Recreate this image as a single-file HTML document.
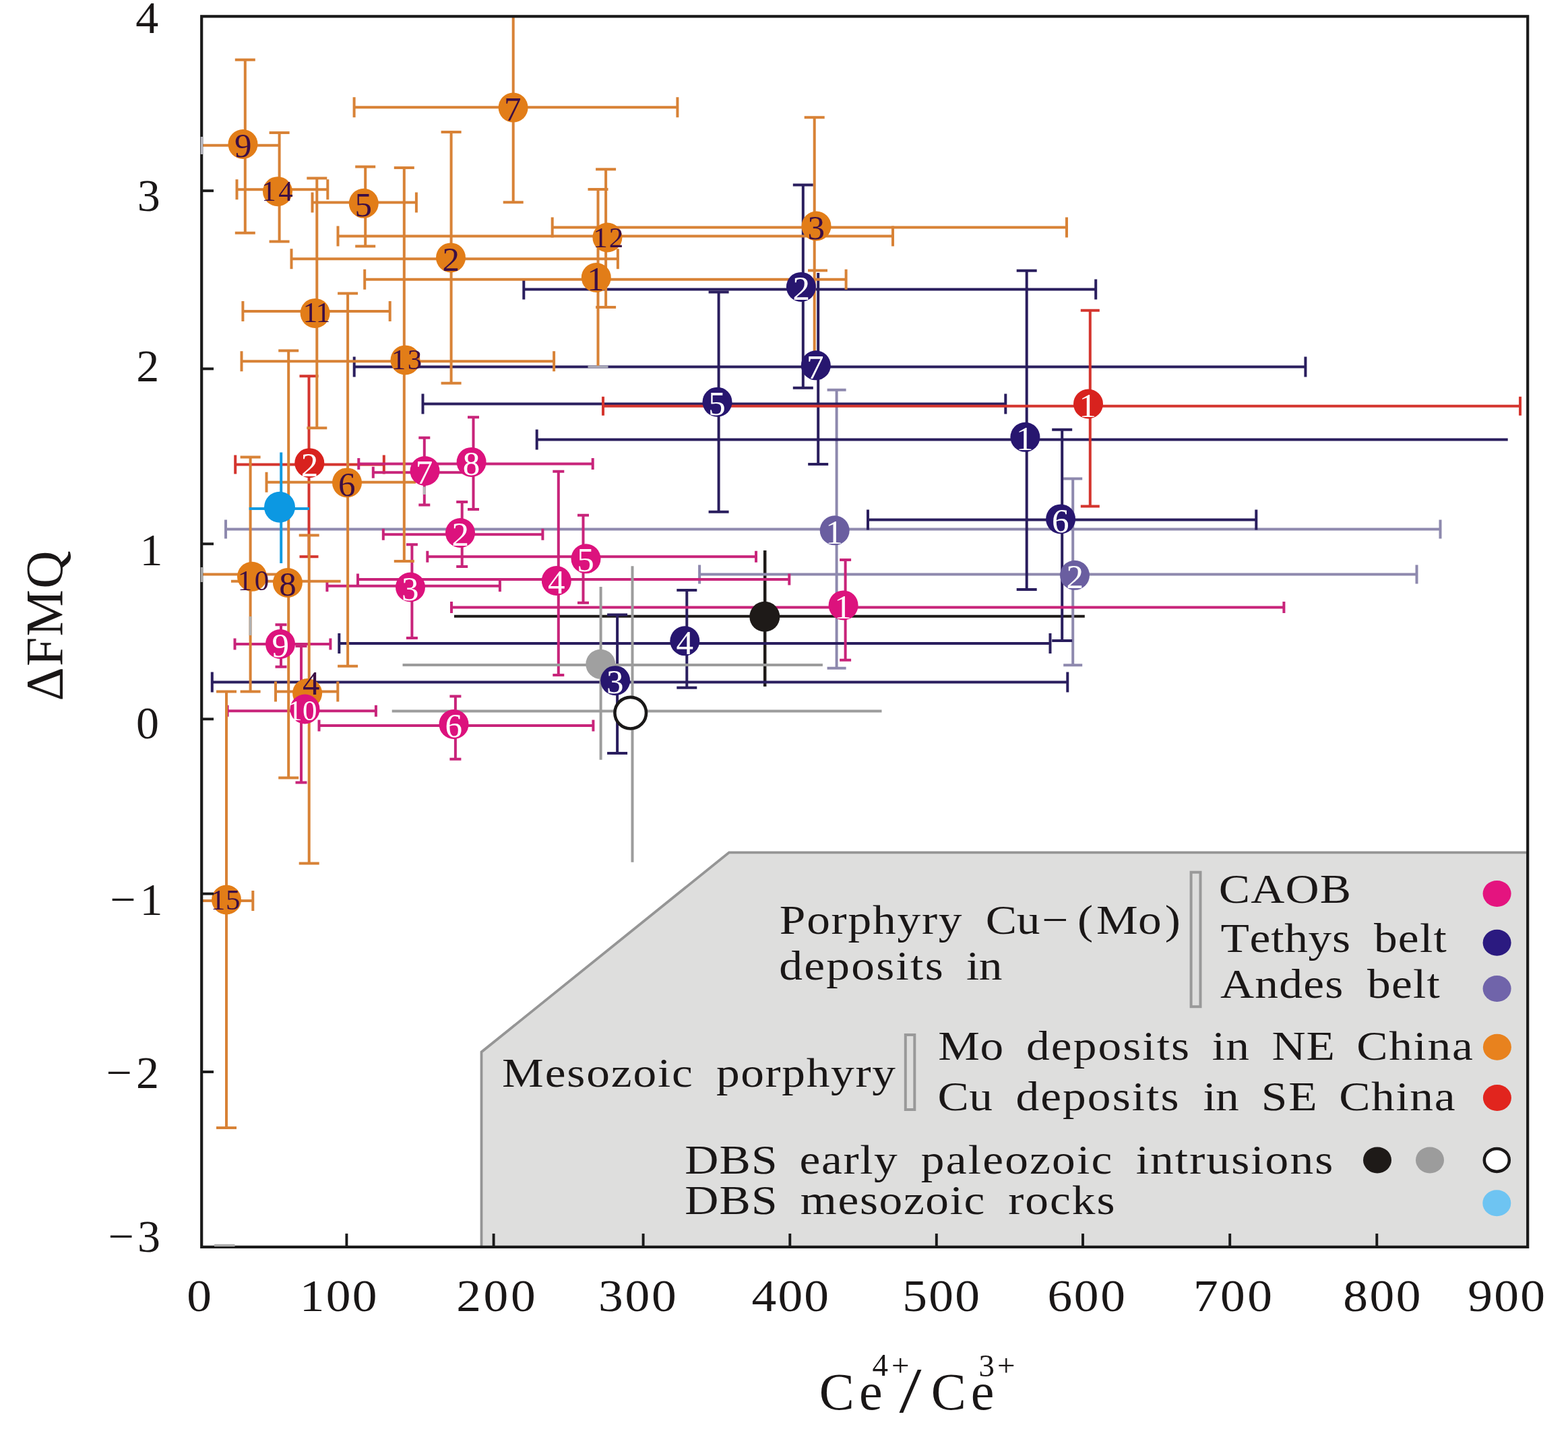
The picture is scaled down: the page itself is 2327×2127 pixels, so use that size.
<!DOCTYPE html>
<html><head><meta charset="utf-8"><title>Ce4+/Ce3+ vs FMQ</title>
<style>html,body{margin:0;padding:0;background:#fff;overflow:hidden}svg{display:block;filter:blur(0.6px)}text{font-family:"Liberation Serif","Times New Roman",serif}</style></head><body>
<svg xmlns="http://www.w3.org/2000/svg" width="2327" height="2127" viewBox="0 0 2327 2127">
<rect width="2327" height="2127" fill="#fff"/>
<defs><clipPath id="plot"><rect x="299.2" y="24.3" width="1968" height="1826.6"/></clipPath></defs>
<polygon points="714.5,1851 714.5,1561.5 1082,1265.3 2267,1265.3 2267,1851" fill="#DEDEDD" stroke="#959595" stroke-width="3.8" stroke-linejoin="miter"/>
<g clip-path="url(#plot)" stroke-linecap="butt">
<g class="eb">
<line x1="674" y1="914.8" x2="1609.8" y2="914.8" stroke="#1E1A18" stroke-width="4"/>
<line x1="1135.2" y1="817" x2="1135.2" y2="1018.9" stroke="#1E1A18" stroke-width="4.5"/>
<line x1="335" y1="785.4" x2="2137.5" y2="785.4" stroke="#8E89AE" stroke-width="4"/>
<line x1="335" y1="771.4" x2="335" y2="799.4" stroke="#8E89AE" stroke-width="4"/>
<line x1="2137.5" y1="771.4" x2="2137.5" y2="799.4" stroke="#8E89AE" stroke-width="4"/>
<line x1="1241.6" y1="578.7" x2="1241.6" y2="991.7" stroke="#8E89AE" stroke-width="4"/>
<line x1="1227.6" y1="578.7" x2="1255.6" y2="578.7" stroke="#8E89AE" stroke-width="4"/>
<line x1="1227.6" y1="991.7" x2="1255.6" y2="991.7" stroke="#8E89AE" stroke-width="4"/>
<line x1="1038.1" y1="852.5" x2="2102.5" y2="852.5" stroke="#8E89AE" stroke-width="4"/>
<line x1="1038.1" y1="838.5" x2="1038.1" y2="866.5" stroke="#8E89AE" stroke-width="4"/>
<line x1="2102.5" y1="838.5" x2="2102.5" y2="866.5" stroke="#8E89AE" stroke-width="4"/>
<line x1="1592.2" y1="710.4" x2="1592.2" y2="987.2" stroke="#8E89AE" stroke-width="4"/>
<line x1="1578.2" y1="710.4" x2="1606.2" y2="710.4" stroke="#8E89AE" stroke-width="4"/>
<line x1="1578.2" y1="987.2" x2="1606.2" y2="987.2" stroke="#8E89AE" stroke-width="4"/>
<line x1="777.3" y1="429.4" x2="1626.2" y2="429.4" stroke="#2A1E5E" stroke-width="4"/>
<line x1="777.3" y1="414.4" x2="777.3" y2="444.4" stroke="#2A1E5E" stroke-width="4"/>
<line x1="1626.2" y1="414.4" x2="1626.2" y2="444.4" stroke="#2A1E5E" stroke-width="4"/>
<line x1="1191.8" y1="274.6" x2="1191.8" y2="575.8" stroke="#2A1E5E" stroke-width="4"/>
<line x1="1176.8" y1="274.6" x2="1206.8" y2="274.6" stroke="#2A1E5E" stroke-width="4"/>
<line x1="1176.8" y1="575.8" x2="1206.8" y2="575.8" stroke="#2A1E5E" stroke-width="4"/>
<line x1="525.7" y1="544.6" x2="1937.4" y2="544.6" stroke="#2A1E5E" stroke-width="4"/>
<line x1="525.7" y1="529.6" x2="525.7" y2="559.6" stroke="#2A1E5E" stroke-width="4"/>
<line x1="1937.4" y1="529.6" x2="1937.4" y2="559.6" stroke="#2A1E5E" stroke-width="4"/>
<line x1="1214.2" y1="405" x2="1214.2" y2="689" stroke="#2A1E5E" stroke-width="4"/>
<line x1="1199.2" y1="689" x2="1229.2" y2="689" stroke="#2A1E5E" stroke-width="4"/>
<line x1="627.5" y1="599.6" x2="1492.3" y2="599.6" stroke="#2A1E5E" stroke-width="4"/>
<line x1="627.5" y1="584.6" x2="627.5" y2="614.6" stroke="#2A1E5E" stroke-width="4"/>
<line x1="1492.3" y1="584.6" x2="1492.3" y2="614.6" stroke="#2A1E5E" stroke-width="4"/>
<line x1="1066.6" y1="433.5" x2="1066.6" y2="759.8" stroke="#2A1E5E" stroke-width="4"/>
<line x1="1051.6" y1="433.5" x2="1081.6" y2="433.5" stroke="#2A1E5E" stroke-width="4"/>
<line x1="1051.6" y1="759.8" x2="1081.6" y2="759.8" stroke="#2A1E5E" stroke-width="4"/>
<line x1="796.7" y1="652.4" x2="2237.7" y2="652.4" stroke="#2A1E5E" stroke-width="4"/>
<line x1="796.7" y1="637.4" x2="796.7" y2="667.4" stroke="#2A1E5E" stroke-width="4"/>
<line x1="1523.7" y1="401.8" x2="1523.7" y2="875" stroke="#2A1E5E" stroke-width="4"/>
<line x1="1508.7" y1="401.8" x2="1538.7" y2="401.8" stroke="#2A1E5E" stroke-width="4"/>
<line x1="1508.7" y1="875" x2="1538.7" y2="875" stroke="#2A1E5E" stroke-width="4"/>
<line x1="1288" y1="771.6" x2="1864.3" y2="771.6" stroke="#2A1E5E" stroke-width="4"/>
<line x1="1288" y1="756.6" x2="1288" y2="786.6" stroke="#2A1E5E" stroke-width="4"/>
<line x1="1864.3" y1="756.6" x2="1864.3" y2="786.6" stroke="#2A1E5E" stroke-width="4"/>
<line x1="1576.2" y1="637.8" x2="1576.2" y2="950.9" stroke="#2A1E5E" stroke-width="4"/>
<line x1="1561.2" y1="637.8" x2="1591.2" y2="637.8" stroke="#2A1E5E" stroke-width="4"/>
<line x1="1561.2" y1="950.9" x2="1591.2" y2="950.9" stroke="#2A1E5E" stroke-width="4"/>
<line x1="503.3" y1="954.9" x2="1558.5" y2="954.9" stroke="#2A1E5E" stroke-width="4"/>
<line x1="503.3" y1="939.9" x2="503.3" y2="969.9" stroke="#2A1E5E" stroke-width="4"/>
<line x1="1558.5" y1="939.9" x2="1558.5" y2="969.9" stroke="#2A1E5E" stroke-width="4"/>
<line x1="1019.3" y1="875.9" x2="1019.3" y2="1020.8" stroke="#2A1E5E" stroke-width="4"/>
<line x1="1004.3" y1="875.9" x2="1034.3" y2="875.9" stroke="#2A1E5E" stroke-width="4"/>
<line x1="1004.3" y1="1020.8" x2="1034.3" y2="1020.8" stroke="#2A1E5E" stroke-width="4"/>
<line x1="314.8" y1="1012.4" x2="1584.3" y2="1012.4" stroke="#2A1E5E" stroke-width="4"/>
<line x1="314.8" y1="997.4" x2="314.8" y2="1027.4" stroke="#2A1E5E" stroke-width="4"/>
<line x1="1584.3" y1="997.4" x2="1584.3" y2="1027.4" stroke="#2A1E5E" stroke-width="4"/>
<line x1="916.1" y1="912.6" x2="916.1" y2="1117.9" stroke="#2A1E5E" stroke-width="4"/>
<line x1="901.1" y1="912.6" x2="931.1" y2="912.6" stroke="#2A1E5E" stroke-width="4"/>
<line x1="901.1" y1="1117.9" x2="931.1" y2="1117.9" stroke="#2A1E5E" stroke-width="4"/>
<line x1="349.2" y1="689.5" x2="569.8" y2="689.5" stroke="#D4352E" stroke-width="4"/>
<line x1="349.2" y1="675.5" x2="349.2" y2="703.5" stroke="#D4352E" stroke-width="4"/>
<line x1="569.8" y1="675.5" x2="569.8" y2="703.5" stroke="#D4352E" stroke-width="4"/>
<line x1="458.5" y1="558.2" x2="458.5" y2="826.2" stroke="#D4352E" stroke-width="4"/>
<line x1="444.5" y1="558.2" x2="472.5" y2="558.2" stroke="#D4352E" stroke-width="4"/>
<line x1="444.5" y1="826.2" x2="472.5" y2="826.2" stroke="#D4352E" stroke-width="4"/>
<line x1="895" y1="602.8" x2="2256" y2="602.8" stroke="#D4352E" stroke-width="4"/>
<line x1="895" y1="588.8" x2="895" y2="616.8" stroke="#D4352E" stroke-width="4"/>
<line x1="2256" y1="588.8" x2="2256" y2="616.8" stroke="#D4352E" stroke-width="4"/>
<line x1="1617.8" y1="460.7" x2="1617.8" y2="751.6" stroke="#D4352E" stroke-width="4"/>
<line x1="1603.8" y1="460.7" x2="1631.8" y2="460.7" stroke="#D4352E" stroke-width="4"/>
<line x1="1603.8" y1="751.6" x2="1631.8" y2="751.6" stroke="#D4352E" stroke-width="4"/>
<line x1="553.8" y1="701.2" x2="690" y2="701.2" stroke="#C8247A" stroke-width="4"/>
<line x1="553.8" y1="692.7" x2="553.8" y2="709.7" stroke="#C8247A" stroke-width="4"/>
<line x1="629.8" y1="649.7" x2="629.8" y2="749.5" stroke="#C8247A" stroke-width="4"/>
<line x1="621.3" y1="649.7" x2="638.3" y2="649.7" stroke="#C8247A" stroke-width="4"/>
<line x1="621.3" y1="749.5" x2="638.3" y2="749.5" stroke="#C8247A" stroke-width="4"/>
<line x1="532.3" y1="688.5" x2="879.7" y2="688.5" stroke="#C8247A" stroke-width="4"/>
<line x1="532.3" y1="680" x2="532.3" y2="697" stroke="#C8247A" stroke-width="4"/>
<line x1="879.7" y1="680" x2="879.7" y2="697" stroke="#C8247A" stroke-width="4"/>
<line x1="702.5" y1="619.3" x2="702.5" y2="756" stroke="#C8247A" stroke-width="4"/>
<line x1="694" y1="619.3" x2="711" y2="619.3" stroke="#C8247A" stroke-width="4"/>
<line x1="694" y1="756" x2="711" y2="756" stroke="#C8247A" stroke-width="4"/>
<line x1="568.8" y1="793.3" x2="805.4" y2="793.3" stroke="#C8247A" stroke-width="4"/>
<line x1="568.8" y1="784.8" x2="568.8" y2="801.8" stroke="#C8247A" stroke-width="4"/>
<line x1="805.4" y1="784.8" x2="805.4" y2="801.8" stroke="#C8247A" stroke-width="4"/>
<line x1="685.7" y1="745" x2="685.7" y2="841" stroke="#C8247A" stroke-width="4"/>
<line x1="677.2" y1="745" x2="694.2" y2="745" stroke="#C8247A" stroke-width="4"/>
<line x1="677.2" y1="841" x2="694.2" y2="841" stroke="#C8247A" stroke-width="4"/>
<line x1="634.3" y1="826.3" x2="1122" y2="826.3" stroke="#C8247A" stroke-width="4"/>
<line x1="634.3" y1="817.8" x2="634.3" y2="834.8" stroke="#C8247A" stroke-width="4"/>
<line x1="1122" y1="817.8" x2="1122" y2="834.8" stroke="#C8247A" stroke-width="4"/>
<line x1="865.5" y1="764.8" x2="865.5" y2="894.8" stroke="#C8247A" stroke-width="4"/>
<line x1="857" y1="764.8" x2="874" y2="764.8" stroke="#C8247A" stroke-width="4"/>
<line x1="857" y1="894.8" x2="874" y2="894.8" stroke="#C8247A" stroke-width="4"/>
<line x1="485.4" y1="869.8" x2="741.9" y2="869.8" stroke="#C8247A" stroke-width="4"/>
<line x1="485.4" y1="861.3" x2="485.4" y2="878.3" stroke="#C8247A" stroke-width="4"/>
<line x1="741.9" y1="861.3" x2="741.9" y2="878.3" stroke="#C8247A" stroke-width="4"/>
<line x1="611.4" y1="808.3" x2="611.4" y2="947.1" stroke="#C8247A" stroke-width="4"/>
<line x1="602.9" y1="808.3" x2="619.9" y2="808.3" stroke="#C8247A" stroke-width="4"/>
<line x1="602.9" y1="947.1" x2="619.9" y2="947.1" stroke="#C8247A" stroke-width="4"/>
<line x1="531" y1="860" x2="1171.3" y2="860" stroke="#C8247A" stroke-width="4"/>
<line x1="531" y1="851.5" x2="531" y2="868.5" stroke="#C8247A" stroke-width="4"/>
<line x1="1171.3" y1="851.5" x2="1171.3" y2="868.5" stroke="#C8247A" stroke-width="4"/>
<line x1="828.8" y1="699.8" x2="828.8" y2="1001.9" stroke="#C8247A" stroke-width="4"/>
<line x1="820.3" y1="699.8" x2="837.3" y2="699.8" stroke="#C8247A" stroke-width="4"/>
<line x1="820.3" y1="1001.9" x2="837.3" y2="1001.9" stroke="#C8247A" stroke-width="4"/>
<line x1="670" y1="901.4" x2="1905.4" y2="901.4" stroke="#C8247A" stroke-width="4"/>
<line x1="670" y1="892.9" x2="670" y2="909.9" stroke="#C8247A" stroke-width="4"/>
<line x1="1905.4" y1="892.9" x2="1905.4" y2="909.9" stroke="#C8247A" stroke-width="4"/>
<line x1="1254.6" y1="831" x2="1254.6" y2="979.8" stroke="#C8247A" stroke-width="4"/>
<line x1="1246.1" y1="831" x2="1263.1" y2="831" stroke="#C8247A" stroke-width="4"/>
<line x1="1246.1" y1="979.8" x2="1263.1" y2="979.8" stroke="#C8247A" stroke-width="4"/>
<line x1="348.5" y1="956" x2="490.4" y2="956" stroke="#C8247A" stroke-width="4"/>
<line x1="348.5" y1="947.5" x2="348.5" y2="964.5" stroke="#C8247A" stroke-width="4"/>
<line x1="490.4" y1="947.5" x2="490.4" y2="964.5" stroke="#C8247A" stroke-width="4"/>
<line x1="417" y1="927.3" x2="417" y2="989.8" stroke="#C8247A" stroke-width="4"/>
<line x1="408.5" y1="927.3" x2="425.5" y2="927.3" stroke="#C8247A" stroke-width="4"/>
<line x1="408.5" y1="989.8" x2="425.5" y2="989.8" stroke="#C8247A" stroke-width="4"/>
<line x1="337.6" y1="1055.3" x2="557.9" y2="1055.3" stroke="#C8247A" stroke-width="4"/>
<line x1="337.6" y1="1046.8" x2="337.6" y2="1063.8" stroke="#C8247A" stroke-width="4"/>
<line x1="557.9" y1="1046.8" x2="557.9" y2="1063.8" stroke="#C8247A" stroke-width="4"/>
<line x1="447" y1="959" x2="447" y2="1161.5" stroke="#C8247A" stroke-width="4"/>
<line x1="438.5" y1="959" x2="455.5" y2="959" stroke="#C8247A" stroke-width="4"/>
<line x1="438.5" y1="1161.5" x2="455.5" y2="1161.5" stroke="#C8247A" stroke-width="4"/>
<line x1="473.5" y1="1077.1" x2="880.4" y2="1077.1" stroke="#C8247A" stroke-width="4"/>
<line x1="473.5" y1="1068.6" x2="473.5" y2="1085.6" stroke="#C8247A" stroke-width="4"/>
<line x1="880.4" y1="1068.6" x2="880.4" y2="1085.6" stroke="#C8247A" stroke-width="4"/>
<line x1="675.9" y1="1033.5" x2="675.9" y2="1126.8" stroke="#C8247A" stroke-width="4"/>
<line x1="667.4" y1="1033.5" x2="684.4" y2="1033.5" stroke="#C8247A" stroke-width="4"/>
<line x1="667.4" y1="1126.8" x2="684.4" y2="1126.8" stroke="#C8247A" stroke-width="4"/>
<line x1="290" y1="215.8" x2="414" y2="215.8" stroke="#D88236" stroke-width="4"/>
<line x1="363.8" y1="88.8" x2="363.8" y2="345.7" stroke="#D88236" stroke-width="4"/>
<line x1="348.8" y1="88.8" x2="378.8" y2="88.8" stroke="#D88236" stroke-width="4"/>
<line x1="348.8" y1="345.7" x2="378.8" y2="345.7" stroke="#D88236" stroke-width="4"/>
<line x1="351.5" y1="281.2" x2="486.3" y2="281.2" stroke="#D88236" stroke-width="4"/>
<line x1="351.5" y1="266.2" x2="351.5" y2="296.2" stroke="#D88236" stroke-width="4"/>
<line x1="486.3" y1="266.2" x2="486.3" y2="296.2" stroke="#D88236" stroke-width="4"/>
<line x1="414.6" y1="196.9" x2="414.6" y2="358.6" stroke="#D88236" stroke-width="4"/>
<line x1="399.6" y1="196.9" x2="429.6" y2="196.9" stroke="#D88236" stroke-width="4"/>
<line x1="399.6" y1="358.6" x2="429.6" y2="358.6" stroke="#D88236" stroke-width="4"/>
<line x1="463.5" y1="300.4" x2="617.9" y2="300.4" stroke="#D88236" stroke-width="4"/>
<line x1="463.5" y1="285.4" x2="463.5" y2="315.4" stroke="#D88236" stroke-width="4"/>
<line x1="617.9" y1="285.4" x2="617.9" y2="315.4" stroke="#D88236" stroke-width="4"/>
<line x1="542.2" y1="247.5" x2="542.2" y2="365.4" stroke="#D88236" stroke-width="4"/>
<line x1="527.2" y1="247.5" x2="557.2" y2="247.5" stroke="#D88236" stroke-width="4"/>
<line x1="527.2" y1="365.4" x2="557.2" y2="365.4" stroke="#D88236" stroke-width="4"/>
<line x1="525.6" y1="159.3" x2="1005.4" y2="159.3" stroke="#D88236" stroke-width="4"/>
<line x1="525.6" y1="144.3" x2="525.6" y2="174.3" stroke="#D88236" stroke-width="4"/>
<line x1="1005.4" y1="144.3" x2="1005.4" y2="174.3" stroke="#D88236" stroke-width="4"/>
<line x1="761.7" y1="10" x2="761.7" y2="300.2" stroke="#D88236" stroke-width="4"/>
<line x1="746.7" y1="300.2" x2="776.7" y2="300.2" stroke="#D88236" stroke-width="4"/>
<line x1="432.5" y1="384.2" x2="916.9" y2="384.2" stroke="#D88236" stroke-width="4"/>
<line x1="432.5" y1="369.2" x2="432.5" y2="399.2" stroke="#D88236" stroke-width="4"/>
<line x1="916.9" y1="369.2" x2="916.9" y2="399.2" stroke="#D88236" stroke-width="4"/>
<line x1="669.6" y1="196" x2="669.6" y2="568.8" stroke="#D88236" stroke-width="4"/>
<line x1="654.6" y1="196" x2="684.6" y2="196" stroke="#D88236" stroke-width="4"/>
<line x1="654.6" y1="568.8" x2="684.6" y2="568.8" stroke="#D88236" stroke-width="4"/>
<line x1="501.5" y1="350.4" x2="1325" y2="350.4" stroke="#D88236" stroke-width="4"/>
<line x1="501.5" y1="335.4" x2="501.5" y2="365.4" stroke="#D88236" stroke-width="4"/>
<line x1="1325" y1="335.4" x2="1325" y2="365.4" stroke="#D88236" stroke-width="4"/>
<line x1="899.1" y1="251.3" x2="899.1" y2="456" stroke="#D88236" stroke-width="4"/>
<line x1="884.1" y1="251.3" x2="914.1" y2="251.3" stroke="#D88236" stroke-width="4"/>
<line x1="884.1" y1="456" x2="914.1" y2="456" stroke="#D88236" stroke-width="4"/>
<line x1="541.2" y1="414.8" x2="1255.6" y2="414.8" stroke="#D88236" stroke-width="4"/>
<line x1="541.2" y1="399.8" x2="541.2" y2="429.8" stroke="#D88236" stroke-width="4"/>
<line x1="1255.6" y1="399.8" x2="1255.6" y2="429.8" stroke="#D88236" stroke-width="4"/>
<line x1="887.5" y1="281.1" x2="887.5" y2="543" stroke="#D88236" stroke-width="4"/>
<line x1="872.5" y1="281.1" x2="902.5" y2="281.1" stroke="#D88236" stroke-width="4"/>
<line x1="819.7" y1="337.5" x2="1583" y2="337.5" stroke="#D88236" stroke-width="4"/>
<line x1="819.7" y1="322.5" x2="819.7" y2="352.5" stroke="#D88236" stroke-width="4"/>
<line x1="1583" y1="322.5" x2="1583" y2="352.5" stroke="#D88236" stroke-width="4"/>
<line x1="1208.7" y1="174.2" x2="1208.7" y2="530" stroke="#D88236" stroke-width="4"/>
<line x1="1193.7" y1="174.2" x2="1223.7" y2="174.2" stroke="#D88236" stroke-width="4"/>
<line x1="360.4" y1="462" x2="578.7" y2="462" stroke="#D88236" stroke-width="4"/>
<line x1="360.4" y1="447" x2="360.4" y2="477" stroke="#D88236" stroke-width="4"/>
<line x1="578.7" y1="447" x2="578.7" y2="477" stroke="#D88236" stroke-width="4"/>
<line x1="470.3" y1="264.6" x2="470.3" y2="635.3" stroke="#D88236" stroke-width="4"/>
<line x1="455.3" y1="264.6" x2="485.3" y2="264.6" stroke="#D88236" stroke-width="4"/>
<line x1="455.3" y1="635.3" x2="485.3" y2="635.3" stroke="#D88236" stroke-width="4"/>
<line x1="358.5" y1="536.2" x2="822.1" y2="536.2" stroke="#D88236" stroke-width="4"/>
<line x1="358.5" y1="521.2" x2="358.5" y2="551.2" stroke="#D88236" stroke-width="4"/>
<line x1="822.1" y1="521.2" x2="822.1" y2="551.2" stroke="#D88236" stroke-width="4"/>
<line x1="599.8" y1="249" x2="599.8" y2="833.1" stroke="#D88236" stroke-width="4"/>
<line x1="584.8" y1="249" x2="614.8" y2="249" stroke="#D88236" stroke-width="4"/>
<line x1="584.8" y1="833.1" x2="614.8" y2="833.1" stroke="#D88236" stroke-width="4"/>
<line x1="395.5" y1="715.8" x2="617" y2="715.8" stroke="#D88236" stroke-width="4"/>
<line x1="395.5" y1="700.8" x2="395.5" y2="730.8" stroke="#D88236" stroke-width="4"/>
<line x1="516.1" y1="435.5" x2="516.1" y2="988.8" stroke="#D88236" stroke-width="4"/>
<line x1="501.1" y1="435.5" x2="531.1" y2="435.5" stroke="#D88236" stroke-width="4"/>
<line x1="501.1" y1="988.8" x2="531.1" y2="988.8" stroke="#D88236" stroke-width="4"/>
<line x1="290" y1="852.6" x2="420" y2="852.6" stroke="#D88236" stroke-width="4"/>
<line x1="371.6" y1="678.4" x2="371.6" y2="1026.5" stroke="#D88236" stroke-width="4"/>
<line x1="356.6" y1="678.4" x2="386.6" y2="678.4" stroke="#D88236" stroke-width="4"/>
<line x1="356.6" y1="1026.5" x2="386.6" y2="1026.5" stroke="#D88236" stroke-width="4"/>
<line x1="342.9" y1="862.8" x2="505.6" y2="862.8" stroke="#D88236" stroke-width="4"/>
<line x1="428.2" y1="520.5" x2="428.2" y2="1154.6" stroke="#D88236" stroke-width="4"/>
<line x1="413.2" y1="520.5" x2="443.2" y2="520.5" stroke="#D88236" stroke-width="4"/>
<line x1="413.2" y1="1154.6" x2="443.2" y2="1154.6" stroke="#D88236" stroke-width="4"/>
<line x1="409" y1="1026.5" x2="501.3" y2="1026.5" stroke="#D88236" stroke-width="4"/>
<line x1="409" y1="1011.5" x2="409" y2="1041.5" stroke="#D88236" stroke-width="4"/>
<line x1="501.3" y1="1011.5" x2="501.3" y2="1041.5" stroke="#D88236" stroke-width="4"/>
<line x1="458.7" y1="794.4" x2="458.7" y2="1281.5" stroke="#D88236" stroke-width="4"/>
<line x1="443.7" y1="794.4" x2="473.7" y2="794.4" stroke="#D88236" stroke-width="4"/>
<line x1="443.7" y1="1281.5" x2="473.7" y2="1281.5" stroke="#D88236" stroke-width="4"/>
<line x1="296" y1="1337.1" x2="375.3" y2="1337.1" stroke="#D88236" stroke-width="4"/>
<line x1="296" y1="1322.1" x2="296" y2="1352.1" stroke="#D88236" stroke-width="4"/>
<line x1="375.3" y1="1322.1" x2="375.3" y2="1352.1" stroke="#D88236" stroke-width="4"/>
<line x1="336" y1="1026.5" x2="336" y2="1674" stroke="#D88236" stroke-width="4"/>
<line x1="321" y1="1026.5" x2="351" y2="1026.5" stroke="#D88236" stroke-width="4"/>
<line x1="321" y1="1674" x2="351" y2="1674" stroke="#D88236" stroke-width="4"/>
<line x1="597.5" y1="987" x2="1220.9" y2="987" stroke="#9C9C9C" stroke-width="4"/>
<line x1="891.6" y1="871" x2="891.6" y2="1127.8" stroke="#9C9C9C" stroke-width="4"/>
<line x1="581.7" y1="1055.5" x2="1308.5" y2="1055.5" stroke="#9C9C9C" stroke-width="4"/>
<line x1="938.5" y1="840.2" x2="938.5" y2="1279.7" stroke="#9C9C9C" stroke-width="4"/>
<line x1="369.7" y1="755" x2="459" y2="755" stroke="#139BE0" stroke-width="4"/>
<line x1="417.2" y1="671.5" x2="417.2" y2="836.1" stroke="#139BE0" stroke-width="4"/>
<line x1="371.6" y1="915" x2="371.6" y2="943" stroke="#B0B0B0" stroke-width="4"/>
<line x1="872.5" y1="544.5" x2="902.5" y2="544.5" stroke="#A8A8B8" stroke-width="3.5"/>
<line x1="629.8" y1="722.5" x2="629.8" y2="734" stroke="#B8B8B8" stroke-width="4"/>
<line x1="1199" y1="401.5" x2="1228" y2="401.5" stroke="#D88236" stroke-width="4"/>
</g>
<circle cx="891.3" cy="985.8" r="22" fill="#A0A0A0"/>
<circle cx="1238.7" cy="787.3" r="22" fill="#6A5EA0"/>
<text x="1225.24" y="806.63" font-size="51" fill="#FFFFFF">1</text>
<circle cx="1595" cy="853.8" r="22" fill="#6A5EA0"/>
<text x="1582.53" y="873.18" font-size="51" fill="#FFFFFF">2</text>
<circle cx="1188.9" cy="425.9" r="22" fill="#27166F"/>
<text x="1176.43" y="445.28" font-size="51" fill="#FFFFFF">2</text>
<circle cx="1210.8" cy="542.3" r="22" fill="#27166F"/>
<text x="1197.11" y="561.5" font-size="51" fill="#FFFFFF">7</text>
<circle cx="1064.5" cy="596.7" r="22" fill="#27166F"/>
<text x="1051.27" y="615.65" font-size="51" fill="#FFFFFF">5</text>
<circle cx="1521.4" cy="648.8" r="22" fill="#27166F"/>
<text x="1507.94" y="668.13" font-size="51" fill="#FFFFFF">1</text>
<circle cx="1574.1" cy="770.4" r="22" fill="#27166F"/>
<text x="1561.02" y="789.53" font-size="51" fill="#FFFFFF">6</text>
<circle cx="1016.3" cy="951.3" r="22" fill="#27166F"/>
<text x="1003.45" y="970.58" font-size="51" fill="#FFFFFF">4</text>
<circle cx="913.1" cy="1010.2" r="22" fill="#27166F"/>
<text x="900.12" y="1029.33" font-size="51" fill="#FFFFFF">3</text>
<circle cx="360.5" cy="214" r="22" fill="#E27D18"/>
<text x="347.98" y="233.13" font-size="51" fill="#3C0E44">9</text>
<circle cx="412" cy="284.2" r="22" fill="#E27D18"/>
<text x="388.22 413.19" y="297.5" font-size="43" fill="#3C0E44">14</text>
<circle cx="539.8" cy="301.8" r="22" fill="#E27D18"/>
<text x="526.57" y="320.75" font-size="51" fill="#3C0E44">5</text>
<circle cx="761.6" cy="159.6" r="22" fill="#E27D18"/>
<text x="747.91" y="178.8" font-size="51" fill="#3C0E44">7</text>
<circle cx="669" cy="382.4" r="22" fill="#E27D18"/>
<text x="656.53" y="401.78" font-size="51" fill="#3C0E44">2</text>
<circle cx="901.4" cy="352.5" r="22" fill="#E27D18"/>
<text x="880.22 903.87" y="367" font-size="43" fill="#3C0E44">12</text>
<circle cx="884.8" cy="412" r="22" fill="#E27D18"/>
<text x="871.34" y="431.33" font-size="51" fill="#3C0E44">1</text>
<circle cx="1211.5" cy="335.5" r="22" fill="#E27D18"/>
<text x="1198.52" y="354.63" font-size="51" fill="#3C0E44">3</text>
<circle cx="467.6" cy="464.9" r="22" fill="#E27D18"/>
<text x="449.72 468.68" y="478" font-size="43" fill="#3C0E44">11</text>
<circle cx="601.5" cy="534.4" r="22" fill="#E27D18"/>
<text x="580.72 604.68" y="548" font-size="43" fill="#3C0E44">13</text>
<circle cx="515" cy="716.4" r="22" fill="#E27D18"/>
<text x="501.92" y="735.53" font-size="51" fill="#3C0E44">6</text>
<circle cx="374" cy="855.8" r="22" fill="#E27D18"/>
<text x="352.82 377.83" y="875.5" font-size="43" fill="#3C0E44">10</text>
<circle cx="426.9" cy="865" r="22" fill="#E27D18"/>
<text x="414.15" y="884.2" font-size="51" fill="#3C0E44">8</text>
<circle cx="456.1" cy="1029" r="22" fill="#E27D18"/>
<text x="448.95" y="1031.38" font-size="51" fill="#3C0E44">4</text>
<circle cx="336" cy="1335.5" r="22" fill="#E27D18"/>
<text x="312.82 334.88" y="1349.5" font-size="43" fill="#3C0E44">15</text>
<circle cx="459.3" cy="687.2" r="22" fill="#D8221E"/>
<text x="446.83" y="706.58" font-size="51" fill="#FFFFFF">2</text>
<circle cx="1615" cy="599.5" r="22" fill="#D8221E"/>
<text x="1601.54" y="618.83" font-size="51" fill="#FFFFFF">1</text>
<circle cx="630.5" cy="699" r="22" fill="#DC127D"/>
<text x="616.81" y="718.2" font-size="51" fill="#FFFFFF">7</text>
<circle cx="699.6" cy="685.9" r="22" fill="#DC127D"/>
<text x="686.85" y="705.1" font-size="51" fill="#FFFFFF">8</text>
<circle cx="683" cy="791" r="22" fill="#DC127D"/>
<text x="670.53" y="810.38" font-size="51" fill="#FFFFFF">2</text>
<circle cx="869.5" cy="829.3" r="22" fill="#DC127D"/>
<text x="856.27" y="848.25" font-size="51" fill="#FFFFFF">5</text>
<circle cx="609" cy="871.5" r="22" fill="#DC127D"/>
<text x="596.02" y="890.63" font-size="51" fill="#FFFFFF">3</text>
<circle cx="825.8" cy="862" r="22" fill="#DC127D"/>
<text x="812.95" y="881.28" font-size="51" fill="#FFFFFF">4</text>
<circle cx="1251.6" cy="898.4" r="22" fill="#DC127D"/>
<text x="1238.14" y="917.73" font-size="51" fill="#FFFFFF">1</text>
<circle cx="416" cy="956" r="22" fill="#DC127D"/>
<text x="403.48" y="975.13" font-size="51" fill="#FFFFFF">9</text>
<circle cx="452.5" cy="1052.5" r="22" fill="#DC127D"/>
<text x="426.92 448.93" y="1068.7" font-size="43" fill="#FFFFFF">10</text>
<circle cx="673.5" cy="1075" r="22" fill="#DC127D"/>
<text x="660.42" y="1094.13" font-size="51" fill="#FFFFFF">6</text>
<circle cx="1134.8" cy="915.3" r="22.5" fill="#1E1A18"/>
<circle cx="935.7" cy="1058.2" r="23.3" fill="#FFFFFF" stroke="#1A1818" stroke-width="4.6"/>
<circle cx="415" cy="752.8" r="23" fill="#0C98E2"/>
</g>
<rect x="299.2" y="24.3" width="1968" height="1826.6" fill="none" stroke="#1A1A1A" stroke-width="4.2"/>
<line x1="299.2" y1="283.2" x2="317" y2="283.2" stroke="#1A1A1A" stroke-width="3.9"/>
<line x1="299.2" y1="547.4" x2="317" y2="547.4" stroke="#1A1A1A" stroke-width="3.9"/>
<line x1="299.2" y1="807.3" x2="317" y2="807.3" stroke="#1A1A1A" stroke-width="3.9"/>
<line x1="299.2" y1="1067.3" x2="317" y2="1067.3" stroke="#1A1A1A" stroke-width="3.9"/>
<line x1="299.2" y1="1326.6" x2="317" y2="1326.6" stroke="#1A1A1A" stroke-width="3.9"/>
<line x1="299.2" y1="1591" x2="317" y2="1591" stroke="#1A1A1A" stroke-width="3.9"/>
<line x1="514.4" y1="1850.9" x2="514.4" y2="1831" stroke="#1A1A1A" stroke-width="3.9"/>
<line x1="732.6" y1="1850.9" x2="732.6" y2="1831" stroke="#1A1A1A" stroke-width="3.9"/>
<line x1="954.6" y1="1850.9" x2="954.6" y2="1831" stroke="#1A1A1A" stroke-width="3.9"/>
<line x1="1172.3" y1="1850.9" x2="1172.3" y2="1831" stroke="#1A1A1A" stroke-width="3.9"/>
<line x1="1389.8" y1="1850.9" x2="1389.8" y2="1831" stroke="#1A1A1A" stroke-width="3.9"/>
<line x1="1607" y1="1850.9" x2="1607" y2="1831" stroke="#1A1A1A" stroke-width="3.9"/>
<line x1="1825.2" y1="1850.9" x2="1825.2" y2="1831" stroke="#1A1A1A" stroke-width="3.9"/>
<line x1="2043.3" y1="1850.9" x2="2043.3" y2="1831" stroke="#1A1A1A" stroke-width="3.9"/>
<line x1="299.5" y1="203" x2="299.5" y2="229" stroke="#B8B8C0" stroke-width="3.5"/>
<line x1="299.5" y1="842" x2="299.5" y2="864" stroke="#A8A8A8" stroke-width="3.5"/>
<line x1="318" y1="1848.5" x2="348.5" y2="1848.5" stroke="#AAAAAA" stroke-width="3.5"/>
<text x="201.36" y="48.6" font-size="68" fill="#1A1717">4</text>
<text x="203.79" y="313.2" font-size="68" fill="#1A1717">3</text>
<text x="202.22" y="566.3" font-size="68" fill="#1A1717">2</text>
<text x="207.45" y="838.5" font-size="68" fill="#1A1717">1</text>
<text x="201.95" y="1096.2" font-size="68" fill="#1A1717">0</text>
<text x="163.14" y="1357.6" font-size="68" fill="#1A1717">−</text>
<text x="207.45" y="1357.6" font-size="68" fill="#1A1717">1</text>
<text x="157.39" y="1615.3" font-size="68" fill="#1A1717">−</text>
<text x="202.12" y="1615.3" font-size="68" fill="#1A1717">2</text>
<text x="160.59" y="1857.9" font-size="68" fill="#1A1717">−</text>
<text x="203.99" y="1857.9" font-size="68" fill="#1A1717">3</text>
<text transform="scale(1.08,1)" x="256.8" y="1946.5" font-size="68" fill="#1A1717">0</text>
<text transform="scale(1.08,1)" x="411.89 448.01 484.14" y="1946.5" font-size="68" fill="#1A1717">100</text>
<text transform="scale(1.08,1)" x="627.01 664.42 701.82" y="1946.5" font-size="68" fill="#1A1717">200</text>
<text transform="scale(1.08,1)" x="822.11 858.72 895.34" y="1946.5" font-size="68" fill="#1A1717">300</text>
<text transform="scale(1.08,1)" x="1032.99 1068.94 1104.88" y="1946.5" font-size="68" fill="#1A1717">400</text>
<text transform="scale(1.08,1)" x="1239.94 1276.12 1312.29" y="1946.5" font-size="68" fill="#1A1717">500</text>
<text transform="scale(1.08,1)" x="1439.3 1475.75 1512.2" y="1946.5" font-size="68" fill="#1A1717">600</text>
<text transform="scale(1.08,1)" x="1639.77 1676.96 1714.14" y="1946.5" font-size="68" fill="#1A1717">700</text>
<text transform="scale(1.08,1)" x="1845.66 1881.94 1918.21" y="1946.5" font-size="68" fill="#1A1717">800</text>
<text transform="scale(1.08,1)" x="2016.9 2052.97 2089.05" y="1946.5" font-size="68" fill="#1A1717">900</text>
<g transform="translate(92.2,1038.4) rotate(-90)"><text x="-2.16 49.29 93.96 164.61" y="0" font-size="78" fill="#1A1717">ΔFMQ</text></g>
<text x="1215.68" y="2092.2" font-size="78" fill="#1A1717">C</text>
<text x="1275.03" y="2092.2" font-size="78" fill="#1A1717">e</text>
<text x="1294.51" y="2042.2" font-size="47" fill="#1A1717">4</text>
<text x="1322.97" y="2041.5" font-size="47" fill="#1A1717">+</text>
<text transform="scale(1.25,1)" x="1067.6" y="2096.3" font-size="95" fill="#1A1717">/</text>
<text x="1381.78" y="2092.2" font-size="78" fill="#1A1717">C</text>
<text x="1440.68" y="2092.2" font-size="78" fill="#1A1717">e</text>
<text x="1452.44" y="2042.6" font-size="47" fill="#1A1717">3</text>
<text x="1480.07" y="2041.5" font-size="47" fill="#1A1717">+</text>
<text transform="scale(1.12,1)" x="1032.84 1068.89 1101.44 1123.65 1156.21 1188.77 1221.33 1243.53 1275.18 1305.94 1347.11 1380.65 1427.72 1452.76 1508.05 1543.64" y="1385.9" font-size="62" fill="#1A1717">Porphyry Cu−(Mo)</text>
<text transform="scale(1.12,1)" x="1032.32 1065.35 1094.9 1127.92 1160.95 1187.11 1206.36 1225.61 1248.39 1280.31 1297.16" y="1454.3" font-size="62" fill="#1A1717">deposits in</text>
<text transform="scale(1.12,1)" x="1615.05 1657.36 1703.09 1748.83" y="1339.6" font-size="62" fill="#1A1717">CAOB</text>
<text transform="scale(1.12,1)" x="1617.37 1655.89 1684.07 1701.95 1733.6 1765.26 1788.04 1820.45 1852.57 1881.21 1899.56" y="1412.6" font-size="62" fill="#1A1717">Tethys belt</text>
<text transform="scale(1.12,1)" x="1616.97 1662.81 1694.88 1726.94 1755.52 1778.3 1811.61 1843.73 1872.38 1890.73" y="1480.8" font-size="62" fill="#1A1717">Andes belt</text>
<text transform="scale(1.12,1)" x="665.26 722.03 751.19 776.96 809.61 838.77 871.42 890.29 916.79 949.01 981.46 1013.92 1036.02 1068.48 1100.94 1133.39 1155.5" y="1613.4" font-size="62" fill="#1A1717">Mesozoic porphyry</text>
<text transform="scale(1.12,1)" x="1243.11 1298.59 1328.12 1359.91 1392.73 1422.08 1454.9 1487.72 1513.68 1532.73 1551.77 1574.55 1605.93 1624.39 1655.36 1685.34 1730.75 1766.43 1797.55 1840.38 1872.87 1891.57 1924.05" y="1572.8" font-size="62" fill="#1A1717">Mo deposits in NE China</text>
<text transform="scale(1.12,1)" x="1242.37 1284.25 1315.09 1345.98 1378.81 1408.15 1440.97 1473.8 1499.75 1518.8 1537.85 1560.62 1594.23 1610.82 1641.79 1671.29 1707.36 1743.04 1774.24 1817.06 1849.52 1868.2 1900.66" y="1647.8" font-size="62" fill="#1A1717">Cu deposits in SE China</text>
<text transform="scale(1.12,1)" x="907.31 953.09 995.44 1026.96 1059.46 1088.41 1117.35 1139.43 1158.09 1189.73 1220.35 1253.3 1282.78 1301.96 1331.43 1364.39 1393.86 1426.82 1446 1472.5 1505.04 1524.11 1556.96 1576.04 1598.53 1631.38 1657.36 1676.43 1709.28 1742.13" y="1741.8" font-size="62" fill="#1A1717">DBS early paleozoic intrusions</text>
<text transform="scale(1.12,1)" x="907.31 953.09 995.44 1026.96 1060.57 1110.25 1139.22 1164.8 1197.25 1226.21 1258.66 1277.34 1303.84 1335.9 1358.31 1391.07 1420.35 1453.11" y="1802.5" font-size="62" fill="#1A1717">DBS mesozoic rocks</text>
<rect x="1767.6" y="1294.7" width="13.9" height="199.5" fill="none" stroke="#999" stroke-width="4"/>
<rect x="1343.8" y="1536" width="13.5" height="111" fill="none" stroke="#999" stroke-width="4"/>
<ellipse cx="2221.6" cy="1326.4" rx="21" ry="19.5" fill="#E4147F"/>
<ellipse cx="2221.6" cy="1399.2" rx="21" ry="19.5" fill="#2B1A80"/>
<ellipse cx="2221.6" cy="1467.5" rx="21" ry="19.5" fill="#7064AA"/>
<ellipse cx="2221.9" cy="1554.3" rx="21" ry="19.5" fill="#E8821E"/>
<ellipse cx="2221.9" cy="1629.5" rx="21" ry="19.5" fill="#E1251E"/>
<ellipse cx="2044" cy="1721.9" rx="21" ry="19.5" fill="#1E1A18"/>
<ellipse cx="2122" cy="1721.9" rx="21" ry="19.5" fill="#9C9C9C"/>
<ellipse cx="2221.3" cy="1785.8" rx="21" ry="19.5" fill="#6EC4F2"/>
<ellipse cx="2221.3" cy="1721.9" rx="18.5" ry="17" fill="#fff" stroke="#1A1818" stroke-width="4.5"/>
</svg></body></html>
